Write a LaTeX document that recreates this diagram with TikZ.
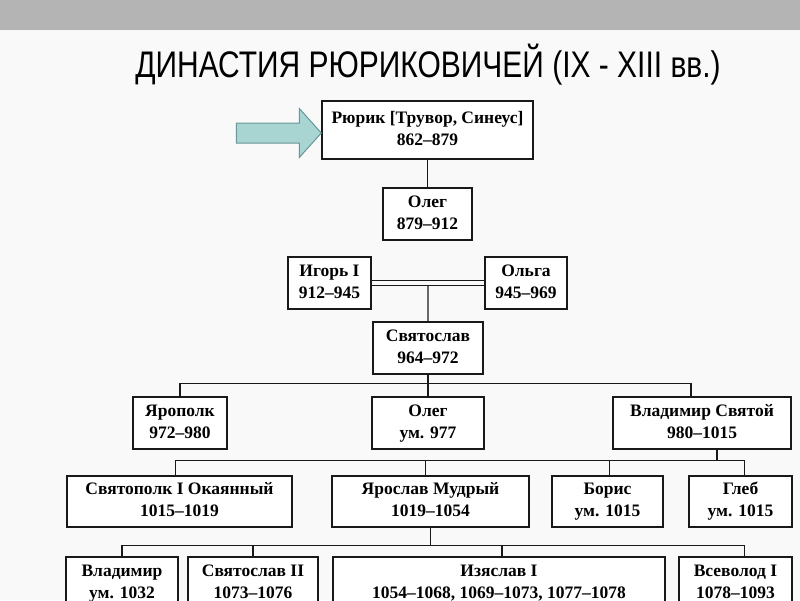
\documentclass[tikz,border=0pt]{standalone}
\usepackage{fontspec}
\setmainfont{Liberation Serif}
\newfontfamily\titlefont[FakeStretch=0.81]{Liberation Sans}
\usetikzlibrary{calc}
\definecolor{bandgray}{RGB}{180,180,180}
\definecolor{paper}{RGB}{249,249,249}
\definecolor{inkline}{RGB}{25,25,25}
\definecolor{arrowfill}{RGB}{168,212,210}
\definecolor{arrowdraw}{RGB}{105,150,150}
\newcommand{\who}[2]{\strut #1\\\strut #2}
\tikzset{
  person/.style={draw=inkline, line width=1.4pt, fill=white, inner sep=0pt,
    minimum height=52pt, align=center,
    font=\bfseries\fontsize{17.5}{22}\selectfont},
  link/.style={draw=inkline, line width=1.3pt},
  pointer/.style={fill=arrowfill, draw=arrowdraw, line width=1pt}
}
\begin{document}
\begin{tikzpicture}[x=1pt,y=-1pt]
            \useasboundingbox (0,0) rectangle (800,600);
            \clip (0,0) rectangle (800,600);
            \fill[paper] (0,0) rectangle (800,600);
            \fill[bandgray] (0,0) rectangle (800,30);
            \node (title) at (428,65) {\titlefont\fontsize{37}{40}\selectfont ДИНАСТИЯ РЮРИКОВИЧЕЙ (IX - XIII вв.)};
            % first generations
            \node[person, minimum width=211pt, minimum height=58pt] (rurik) at (427.5,130) {\who{Рюрик [Трувор, Синеус]}{862--879}};
            \node[person, minimum width=89pt] (oleg) at (427.5,214) {\who{Олег}{879--912}};
            \node[person, minimum width=83pt] (igor) at (329.5,283) {\who{Игорь I}{912--945}};
            \node[person, minimum width=82pt] (olga) at (526,283) {\who{Ольга}{945--969}};
            \node[person, minimum width=110pt] (svyatoslav) at (428,348) {\who{Святослав}{964--972}};
            % sons of Svyatoslav
            \node[person, minimum width=94pt] (yaropolk) at (180,423) {\who{Ярополк}{972--980}};
            \node[person, minimum width=112pt] (olegII) at (428,423) {\who{Олег}{ум. 977}};
            \node[person, minimum width=178pt] (vladimir) at (702,423) {\who{Владимир Святой}{980--1015}};
            % sons of Vladimir
            \node[person, minimum width=225pt, minimum height=51pt] (svyatopolk) at (179.5,501.5) {\who{Святополк I Окаянный}{1015--1019}};
            \node[person, minimum width=197pt, minimum height=51pt] (yaroslav) at (430.5,501.5) {\who{Ярослав Мудрый}{1019--1054}};
            \node[person, minimum width=111pt, minimum height=51pt] (boris) at (607.5,501.5) {\who{Борис}{ум. 1015}};
            \node[person, minimum width=103pt, minimum height=51pt] (gleb) at (740.5,501.5) {\who{Глеб}{ум. 1015}};
            % sons of Yaroslav
            \node[person, minimum width=112pt] (vladimirII) at (122,583) {\who{Владимир}{ум. 1032}};
            \node[person, minimum width=130pt] (svyatoslavII) at (253,583) {\who{Святослав II}{1073--1076}};
            \node[person, minimum width=332pt] (izyaslav) at (499,583) {\who{Изяслав I}{1054--1068, 1069--1073, 1077--1078}};
            \node[person, minimum width=113pt] (vsevolod) at (735.5,583) {\who{Всеволод I}{1078--1093}};
            % links
            \draw[link] (rurik) -- (oleg);
            \coordinate (marriage) at ($(igor.east)!0.5!(olga.west)$);
            \draw[link] (marriage) -- (svyatoslav.north);
            \draw[link, double=paper, double distance=4.5pt, line width=1.2pt] (igor.east) -- (olga.west);
            \draw[link] (svyatoslav.south) -- ++(0,9) coordinate (busA);
            \draw[link] (yaropolk.north) |- (busA) -| ([xshift=-11pt]vladimir.north);
            \draw[link] (busA) -- (olegII.north);
            \draw[link] ([xshift=15pt]vladimir.south) -- ++(0,11) coordinate (busB);
            \draw[link] ([xshift=-4pt]svyatopolk.north) |- (busB) -| ([xshift=4pt]gleb.north);
            \draw[link] ([xshift=-5pt]yaroslav.north) -- ([xshift=-5pt]yaroslav.north |- busB);
            \draw[link] ([xshift=2pt]boris.north) -- ([xshift=2pt]boris.north |- busB);
            \draw[link] (yaroslav.south) -- ++(0,18) coordinate (busC);
            \draw[link] (vladimirII.north) |- (busC) -| ([xshift=9pt]vsevolod.north);
            \draw[link] (svyatoslavII.north) -- (svyatoslavII.north |- busC);
            \draw[link] ([xshift=3pt]izyaslav.north) -- ([xshift=3pt]izyaslav.north |- busC);
            % arrow pointing at Rurik
            \filldraw[pointer] ([yshift=-3pt]rurik.west) coordinate (tip) -- ++(-22,-24.5) -- ++(0,14.5)
              -- ++(-63,0) -- ++(0,20) -- ++(63,0) -- ++(0,14.5) -- cycle;
        \end{tikzpicture}
\end{document}
